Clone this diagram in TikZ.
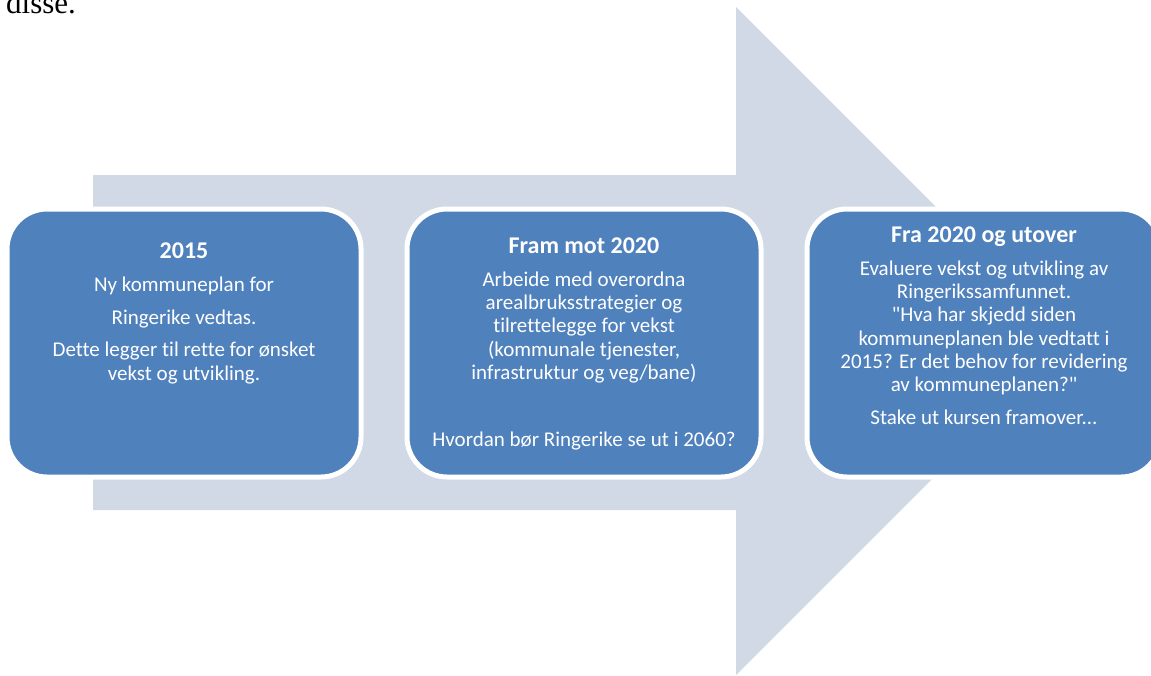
\documentclass[tikz,border=0pt]{standalone}
\usepackage{fontspec}
\setmainfont{Liberation Serif}
\newfontfamily\boxfont[Ligatures={NoCommon}]{Carlito}
\usetikzlibrary{positioning,calc}
\definecolor{arrowfill}{HTML}{D1D9E7}
\definecolor{boxfill}{HTML}{4F81BD}
\tikzset{
   phasebox/.style={draw=white, line width=5pt, fill=boxfill, rounded corners=40pt,
      minimum width=354pt, minimum height=268pt, inner sep=0pt, outer sep=0pt},
   boxtitle/.style={text=white, inner sep=0pt, anchor=base,
      font=\boxfont\bfseries\fontsize{24}{28}\selectfont},
   boxtext/.style={text=white, inner sep=0pt, anchor=north, align=center,
      font=\boxfont\fontsize{21}{23.3}\selectfont, execute at begin node=\strut},
}

\begin{document}
\begin{tikzpicture}[x=1pt, y=-1pt]
   \clip (0,0) rectangle (1151,675);

   % big arrow behind the boxes
   \fill[arrowfill] (93,175) -- (736,175) -- (736,7) -- (1070,341)
      -- (736,675) -- (736,510) -- (93,510) -- cycle;

   % end of the paragraph above
   \node[anchor=base west, inner sep=0pt, font=\fontsize{31}{36}\selectfont]
      (prev) at (6,13) {disse.};

   % the three phases
   \node[phasebox]                   (p1) at (184,343) {};
   \node[phasebox, right=46pt of p1] (p2) {};
   \node[phasebox, right=46pt of p2] (p3) {};

   % 2015
   \node[boxtitle] (t1) at ($(p1.north)+(0,49)$) {2015};
   \node[boxtext]  (b1) at ($(t1.base)+(0,18.5)$)
      {Ny kommuneplan for\\[10pt]
       Ringerike vedtas.\\[9pt]
       Dette legger til rette for ønsket\\
       vekst og utvikling.};

   % fram mot 2020
   \node[boxtitle] (t2) at ($(p2.north)+(0,44)$) {Fram mot 2020};
   \node[boxtext]  (b2) at ($(t2.base)+(0,18.5)$)
      {Arbeide med overordna\\
       arealbruksstrategier og\\
       tilrettelegge for vekst\\
       (kommunale tjenester,\\
       infrastruktur og veg/bane)\\[44pt]
       Hvordan bør Ringerike se ut i 2060?};

   % fra 2020
   \node[boxtitle] (t3) at ($(p3.north)+(0,33)$) {Fra 2020 og utover};
   \node[boxtext]  (b3) at ($(t3.base)+(0,18.5)$)
      {Evaluere vekst og utvikling av\\
       Ringerikssamfunnet.\\
       "Hva har skjedd siden\\
       kommuneplanen ble vedtatt i\\
       2015? Er det behov for revidering\\
       av kommuneplanen?"\\[9pt]
       Stake ut kursen framover...};
\end{tikzpicture}
\end{document}
